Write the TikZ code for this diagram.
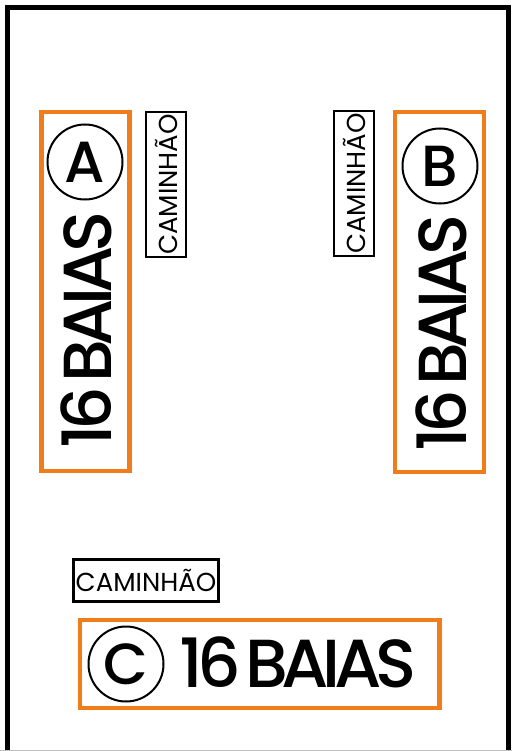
\documentclass[tikz,border=0pt]{standalone}
\usepackage{fontspec}
\setmainfont{Poppins}
\newfontfamily\popmed[LetterSpace=-9.5,WordSpace=0.4]{Poppins Medium}
\newfontfamily\popcirc{Poppins Medium}
\definecolor{baiaorange}{RGB}{240,125,25}
\begin{document}
\begin{tikzpicture}[x=1pt,y=-1pt,
  baia/.style={draw=baiaorange,line width=4.5pt,inner sep=0pt},
  letra/.style={draw=black,circle,line width=2pt,minimum size=75pt,inner sep=0pt,font=\popcirc\fontsize{58}{58}\selectfont},
  grande/.style={inner sep=0pt,font=\popmed\fontsize{68}{68}\selectfont},
  camin/.style={draw=black,line width=2.5pt,inner sep=0pt,font=\fontsize{26}{26}\selectfont}]
\useasboundingbox (0,0) rectangle (512,751);
\fill[white] (0,0) rectangle (512,751);
% frame
\draw[line width=4.5pt] (7.5,751) -- (7.5,7.5) -- (508.5,7.5) -- (508.5,751);
\draw[gray!50,line width=1pt] (0,750.5) -- (512,750.5);
% area A
\node[baia,minimum width=88pt,minimum height=359pt] (boxA) at (85.5,291.5) {};
\node[letra] (circA) at (85,162) {A};
\node[grande,rotate=90] (txtA) at (86,330) {16 BAIAS};
\node[camin,rotate=90,minimum width=145pt,minimum height=40pt] (camA) at (166,184.5) {CAMINHÃO};
% area B
\node[baia,minimum width=89pt,minimum height=360pt] (boxB) at (439.5,292) {};
\node[letra] (circB) at (440,166) {B};
\node[grande,rotate=90] (txtB) at (441,333) {16 BAIAS};
\node[camin,rotate=90,minimum width=145pt,minimum height=40pt] (camB) at (354,183.5) {CAMINHÃO};
% area C
\node[baia,minimum width=359.5pt,minimum height=88pt] (boxC) at (259.75,664) {};
\node[letra] (circC) at (126,664) {C};
\node[grande] (txtC) at (298,662) {16 BAIAS};
\node[camin,minimum width=145pt,minimum height=42pt] (camC) at (146,580.5) {CAMINHÃO};
\end{tikzpicture}
\end{document}
